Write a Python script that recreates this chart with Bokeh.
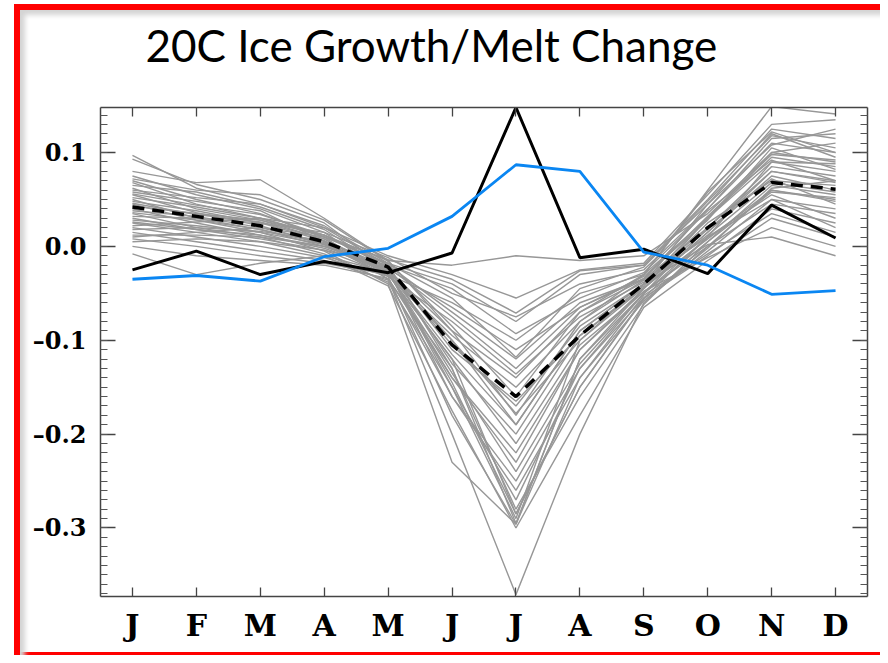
import json
from bokeh.plotting import figure
from bokeh.models import (LinearAxis, FixedTicker, CustomJSTickFormatter, Title, Range1d)
from bokeh.embed import file_html
from bokeh.resources import INLINE

# ---------------- data ----------------
months = ["J", "F", "M", "A", "M", "J", "J", "A", "S", "O", "N", "D"]
month_idx = list(range(12))

ensemble = [
    [0.097, 0.062, 0.045, 0.020, -0.020, -0.130, -0.295, -0.120, -0.045, 0.030, 0.100, 0.090],
    [0.093, 0.066, 0.050, 0.025, -0.025, -0.150, -0.290, -0.100, -0.040, 0.045, 0.120, 0.095],
    [0.080, 0.068, 0.071, 0.030, -0.015, -0.090, -0.180, -0.080, -0.030, 0.060, 0.149, 0.141],
    [0.075, 0.055, 0.040, 0.015, -0.030, -0.120, -0.285, -0.150, -0.055, 0.010, 0.090, 0.080],
    [0.070, 0.050, 0.035, 0.010, -0.035, -0.200, -0.371, -0.200, -0.060, 0.000, 0.060, 0.050],
    [0.068, 0.045, 0.030, 0.012, -0.020, -0.070, -0.120, -0.060, -0.035, 0.040, 0.110, 0.100],
    [0.065, 0.058, 0.042, 0.018, -0.025, -0.160, -0.250, -0.130, -0.050, 0.020, 0.080, 0.070],
    [0.062, 0.040, 0.028, 0.008, -0.030, -0.100, -0.190, -0.090, -0.040, 0.030, 0.095, 0.085],
    [0.058, 0.048, 0.038, 0.005, -0.028, -0.140, -0.230, -0.110, -0.045, 0.015, 0.075, 0.060],
    [0.055, 0.036, 0.022, 0.002, -0.032, -0.180, -0.296, -0.140, -0.058, -0.005, 0.050, 0.040],
    [0.052, 0.042, 0.030, 0.010, -0.018, -0.040, -0.080, -0.030, -0.020, 0.050, 0.125, 0.115],
    [0.050, 0.030, 0.018, 0.000, -0.022, -0.110, -0.165, -0.095, -0.042, 0.025, 0.070, 0.065],
    [0.048, 0.038, 0.025, 0.006, -0.035, -0.130, -0.280, -0.160, -0.062, 0.005, 0.065, 0.055],
    [0.045, 0.028, 0.015, -0.005, -0.040, -0.230, -0.296, -0.120, -0.050, 0.010, 0.055, 0.030],
    [0.043, 0.035, 0.028, 0.012, -0.015, -0.020, -0.010, -0.015, -0.010, 0.035, 0.100, 0.110],
    [0.040, 0.025, 0.012, -0.002, -0.025, -0.090, -0.140, -0.070, -0.035, 0.020, 0.085, 0.075],
    [0.038, 0.032, 0.020, 0.004, -0.030, -0.120, -0.210, -0.105, -0.048, 0.000, 0.045, 0.035],
    [0.035, 0.020, 0.010, -0.008, -0.038, -0.150, -0.270, -0.130, -0.055, -0.010, 0.040, 0.025],
    [0.032, 0.030, 0.025, 0.015, -0.012, -0.050, -0.075, -0.040, -0.025, 0.040, 0.115, 0.120],
    [0.030, 0.018, 0.008, -0.004, -0.030, -0.060, -0.100, -0.050, -0.030, 0.030, 0.090, 0.088],
    [0.028, 0.022, 0.015, 0.002, -0.026, -0.105, -0.170, -0.085, -0.040, 0.012, 0.068, 0.058],
    [0.025, 0.015, 0.005, -0.010, -0.042, -0.175, -0.300, -0.180, -0.065, -0.015, 0.030, 0.010],
    [0.022, 0.026, 0.030, 0.020, -0.010, -0.030, -0.055, -0.025, -0.018, 0.055, 0.130, 0.135],
    [0.020, 0.010, 0.000, -0.012, -0.032, -0.080, -0.136, -0.075, -0.038, 0.018, 0.072, 0.045],
    [0.018, 0.020, 0.016, 0.006, -0.022, -0.125, -0.200, -0.095, -0.044, 0.008, 0.060, 0.048],
    [0.015, 0.005, -0.005, -0.015, -0.036, -0.160, -0.260, -0.140, -0.052, -0.008, 0.035, 0.015],
    [0.012, 0.012, 0.010, 0.000, -0.024, -0.065, -0.110, -0.065, -0.032, 0.028, 0.105, 0.082],
    [0.008, 0.000, -0.010, -0.018, -0.030, -0.095, -0.150, -0.080, -0.036, 0.010, 0.050, 0.020],
    [0.005, 0.008, 0.005, -0.004, -0.020, -0.045, -0.093, -0.055, -0.028, 0.038, 0.092, 0.070],
    [0.000, -0.010, -0.015, -0.020, -0.034, -0.140, -0.220, -0.110, -0.048, -0.012, 0.020, 0.000],
    [-0.008, -0.030, -0.018, -0.010, -0.028, -0.115, -0.190, -0.090, -0.040, 0.002, 0.010, -0.010],
    [0.060, 0.052, 0.045, 0.022, -0.018, -0.055, -0.118, -0.045, -0.022, 0.048, 0.118, 0.105],
    [0.072, 0.060, 0.055, 0.028, -0.016, -0.085, -0.160, -0.070, -0.030, 0.058, 0.122, 0.100],
    [0.036, 0.028, 0.018, 0.003, -0.027, -0.135, -0.240, -0.125, -0.050, 0.005, 0.058, 0.052],
    [0.026, 0.018, 0.012, 0.000, -0.024, -0.100, -0.178, -0.100, -0.044, 0.015, 0.080, 0.068],
    [0.046, 0.034, 0.026, 0.008, -0.026, -0.145, -0.285, -0.150, -0.056, -0.002, 0.062, 0.070],
    [0.056, 0.044, 0.034, 0.012, -0.022, -0.075, -0.130, -0.065, -0.034, 0.032, 0.098, 0.092],
    [0.010, 0.015, 0.020, 0.010, -0.014, -0.035, -0.071, -0.026, -0.020, 0.045, 0.108, 0.125],
]
ensemble_mean = [0.042, 0.032, 0.022, 0.005, -0.022, -0.105, -0.160, -0.095, -0.040, 0.020, 0.068, 0.061]
black_series = [-0.025, -0.005, -0.030, -0.016, -0.028, -0.007, 0.148, -0.012, -0.003, -0.029, 0.044, 0.009]
blue_series = [-0.035, -0.031, -0.037, -0.011, -0.002, 0.032, 0.087, 0.080, -0.006, -0.020, -0.051, -0.047]

y_major_ticks = [-0.3, -0.2, -0.1, 0.0, 0.1]
y_minor_ticks = [round(-0.37 + 0.01 * i, 2) for i in range(52)]

title_text = "20C Ice Growth/Melt Change"

# ---------------- figure ----------------
W, H = 880, 655
FL, FB = 100, 596          # frame left / bottom in canvas pixels
p = figure(width=W, height=H, output_backend="svg", toolbar_location=None,
           x_range=Range1d(-0.5, 11.5), y_range=Range1d(-0.373, 0.148),
           x_axis_location=None, y_axis_location=None,
           min_border_left=FL, min_border_right=13, min_border_top=107, min_border_bottom=H - FB)
p.xgrid.visible = False
p.ygrid.visible = False
p.outline_line_color = None
p.background_fill_color = "white"
p.border_fill_color = None          # let the page frame (CSS) show through the border area

# red slide frame with a soft shadow, drawn behind the transparent canvas border
p.styles = {
    "background-color": "white",
    "box-shadow": ("inset 14px 4px 0 0 white, "
                   "inset 20px 10px 0 0 #ff0000, "
                   "inset 25px 15px 5px 0 #d4d4d4, "
                   "inset 0 -3px 0 0 #ff0000"),
}

axis_col = "#444444"
y_fmt = CustomJSTickFormatter(code="""
    const s = Math.abs(tick).toFixed(1);
    return (tick < -1e-9 ? "\\u2013" : "") + s;
""")
x_fmt = CustomJSTickFormatter(code="const m = %s; return m[Math.round(tick)] || '';" % json.dumps(months))
blank_fmt = CustomJSTickFormatter(code="return '';")


def style_axis(ax, major_in, minor_in):
    ax.axis_line_color = axis_col
    ax.axis_line_width = 1.5
    ax.major_tick_line_color = axis_col
    ax.major_tick_line_width = 1.3
    ax.major_tick_in = major_in
    ax.major_tick_out = 0
    if minor_in:
        ax.minor_tick_line_color = "#555555"
        ax.minor_tick_line_width = 1
        ax.minor_tick_in = minor_in
        ax.minor_tick_out = 0
    else:
        ax.minor_tick_line_color = None


left = LinearAxis(ticker=FixedTicker(ticks=y_major_ticks, minor_ticks=y_minor_ticks), formatter=y_fmt)
style_axis(left, 15, 7)
left.major_label_text_font = "DejaVu Serif"
left.major_label_text_font_style = "bold"
left.major_label_text_font_size = "24px"
left.major_label_text_color = "black"
left.major_label_standoff = 14
p.add_layout(left, "left")

right = LinearAxis(ticker=FixedTicker(ticks=y_major_ticks, minor_ticks=y_minor_ticks), formatter=blank_fmt)
style_axis(right, 15, 7)
right.major_label_text_font_size = "1px"
right.major_label_standoff = 0
p.add_layout(right, "right")

bottom = LinearAxis(ticker=FixedTicker(ticks=month_idx), formatter=x_fmt)
style_axis(bottom, 9, 0)
bottom.major_label_text_font = "DejaVu Serif"
bottom.major_label_text_font_style = "bold"
bottom.major_label_text_font_size = "30px"
bottom.major_label_text_color = "black"
bottom.major_label_standoff = 11
p.add_layout(bottom, "below")

top = LinearAxis(ticker=FixedTicker(ticks=month_idx), formatter=blank_fmt)
style_axis(top, 9, 0)
top.major_label_text_font_size = "1px"
top.major_label_standoff = 0
p.add_layout(top, "above")

# thin spacer between the top axis and the title, then the title itself
spacer = Title(text=" ", text_font_size="1px", standoff=33)
p.add_layout(spacer, "above")

title = Title(text=title_text, text_font="Lato", text_font_size="44px", text_font_style="normal",
              text_color="black", align="left", offset=45, standoff=2)
p.add_layout(title, "above")

# ---------------- lines ----------------
for series in ensemble:
    p.line(month_idx, series, line_color="#979797", line_width=1.4)

p.line(month_idx, ensemble_mean, line_color="black", line_width=3.5, line_dash="12 8")
p.line(month_idx, black_series, line_color="black", line_width=3)
p.line(month_idx, blue_series, line_color="#0a86f2", line_width=2.8)

open("out.html", "w").write(file_html(p, INLINE))
